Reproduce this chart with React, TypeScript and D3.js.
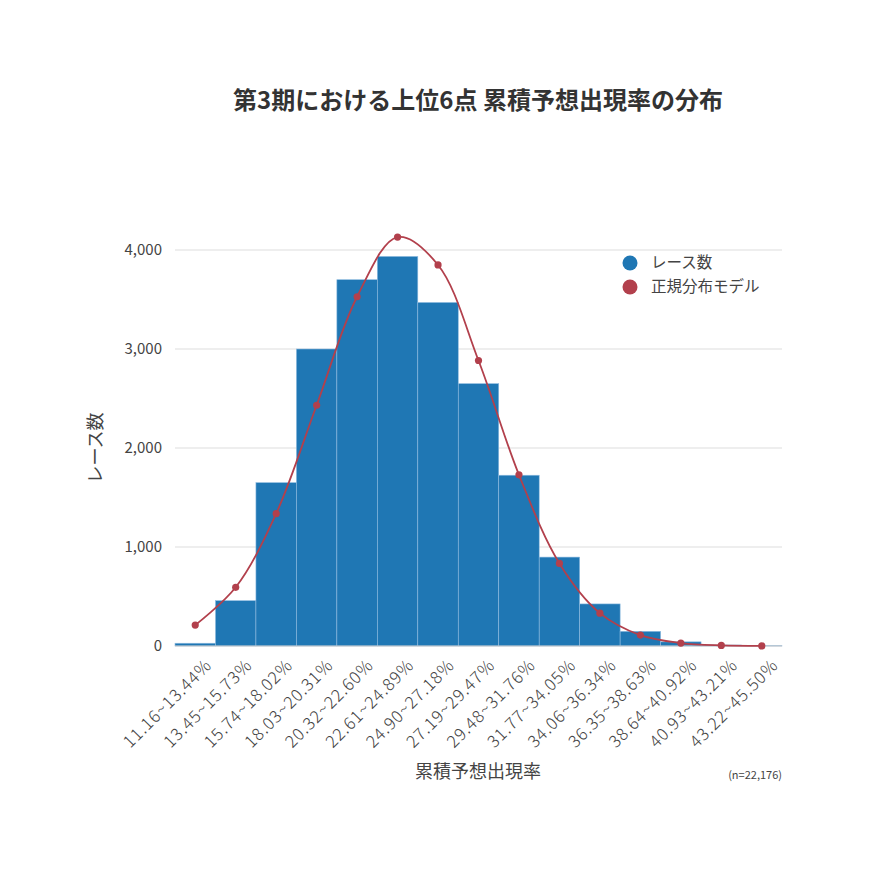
import React from 'react';
import * as d3 from 'd3';

const dim = {
  width: 870,
  height: 870,
  left: 175,
  right: 782,
  top: 250,
  bottom: 646,
};

const binLabels = [
  '11.16~13.44%', '13.45~15.73%', '15.74~18.02%', '18.03~20.31%', '20.32~22.60%',
  '22.61~24.89%', '24.90~27.18%', '27.19~29.47%', '29.48~31.76%', '31.77~34.05%',
  '34.06~36.34%', '36.35~38.63%', '38.64~40.92%', '40.93~43.21%', '43.22~45.50%',
];
const raceCounts = [28, 458, 1650, 3000, 3700, 3935, 3470, 2650, 1725, 898, 425, 148, 42, 10, 3];
const normalModel = [211, 593, 1337, 2432, 3528, 4131, 3849, 2884, 1729, 834, 332, 110, 30, 6, 1];
const yTicks = [0, 1000, 2000, 3000, 4000];

const font = '"Noto Sans CJK JP", "Noto Sans", sans-serif';
const barColor = '#1f77b4';
const lineColor = '#b2404c';

const App = () => {
  const x = d3.scaleBand<string>().domain(binLabels).range([dim.left, dim.right]).padding(0);
  const y = d3.scaleLinear().domain([0, 4000]).range([dim.bottom, dim.top]);
  const fmt = d3.format(',');

  const line = d3
    .line<number>()
    .x((_, i) => x(binLabels[i])! + x.bandwidth() / 2)
    .y((d) => y(d))
    .curve(d3.curveCatmullRom.alpha(0.5));

  return (
    <svg width={dim.width} height={dim.height} style={{ display: 'block', margin: '-8px' }}>
      <rect width={dim.width} height={dim.height} fill="#fff" />
      <text x={478} y={109} textAnchor="middle" fontFamily={font} fontSize={24} fontWeight="bold" fill="#333">
        第3期における上位6点 累積予想出現率の分布
      </text>

      {yTicks.map((t) => (
        <g key={t}>
          {t > 0 && (
            <line x1={dim.left} x2={dim.right} y1={y(t)} y2={y(t)} stroke="#ddd" strokeWidth={1} />
          )}
          <text x={162} y={y(t)} dy="0.35em" textAnchor="end" fontFamily={font} fontSize={15} fill="#444">
            {fmt(t)}
          </text>
        </g>
      ))}

      {raceCounts.map((v, i) => (
        <rect
          key={i}
          x={x(binLabels[i])}
          y={y(v)}
          width={x.bandwidth()}
          height={y(0) - y(v)}
          fill={barColor}
          stroke="#8fbbe0"
          strokeWidth={0.6}
        />
      ))}
      <line x1={dim.left} x2={dim.right} y1={y(0)} y2={y(0)} stroke="#c8c8c8" strokeWidth={1} />

      <path d={line(normalModel) ?? ''} fill="none" stroke={lineColor} strokeWidth={1.8} />
      {normalModel.map((v, i) => (
        <circle key={i} cx={x(binLabels[i])! + x.bandwidth() / 2} cy={y(v)} r={3.6} fill={lineColor} />
      ))}

      {binLabels.map((l) => {
        const cx = x(l)! + x.bandwidth() / 2 + 9;
        return (
          <text
            key={l}
            transform={`translate(${cx},${dim.bottom + 12}) rotate(-45)`}
            textAnchor="end"
            dy="0.7em"
            fontFamily={font}
            fontSize={17}
            fontWeight={300}
            letterSpacing={0.9}
            fill="#444"
          >
            {l}
          </text>
        );
      })}

      <text x={478} y={778} textAnchor="middle" fontFamily={font} fontSize={18} fill="#444">
        累積予想出現率
      </text>
      <text x={782} y={779} textAnchor="end" fontFamily={font} fontSize={11} fill="#444">
        (n=22,176)
      </text>
      <text
        transform={`translate(102,${(dim.top + dim.bottom) / 2}) rotate(-90)`}
        textAnchor="middle"
        fontFamily={font}
        fontSize={18}
        fill="#444"
      >
        レース数
      </text>

      <g fontFamily={font} fontSize={15.5} fill="#444">
        <circle cx={630} cy={263} r={7.5} fill={barColor} />
        <text x={651} y={263} dy="0.35em">レース数</text>
        <circle cx={630} cy={287} r={7.5} fill={lineColor} />
        <text x={651} y={287} dy="0.35em">正規分布モデル</text>
      </g>
    </svg>
  );
};

export default App;
